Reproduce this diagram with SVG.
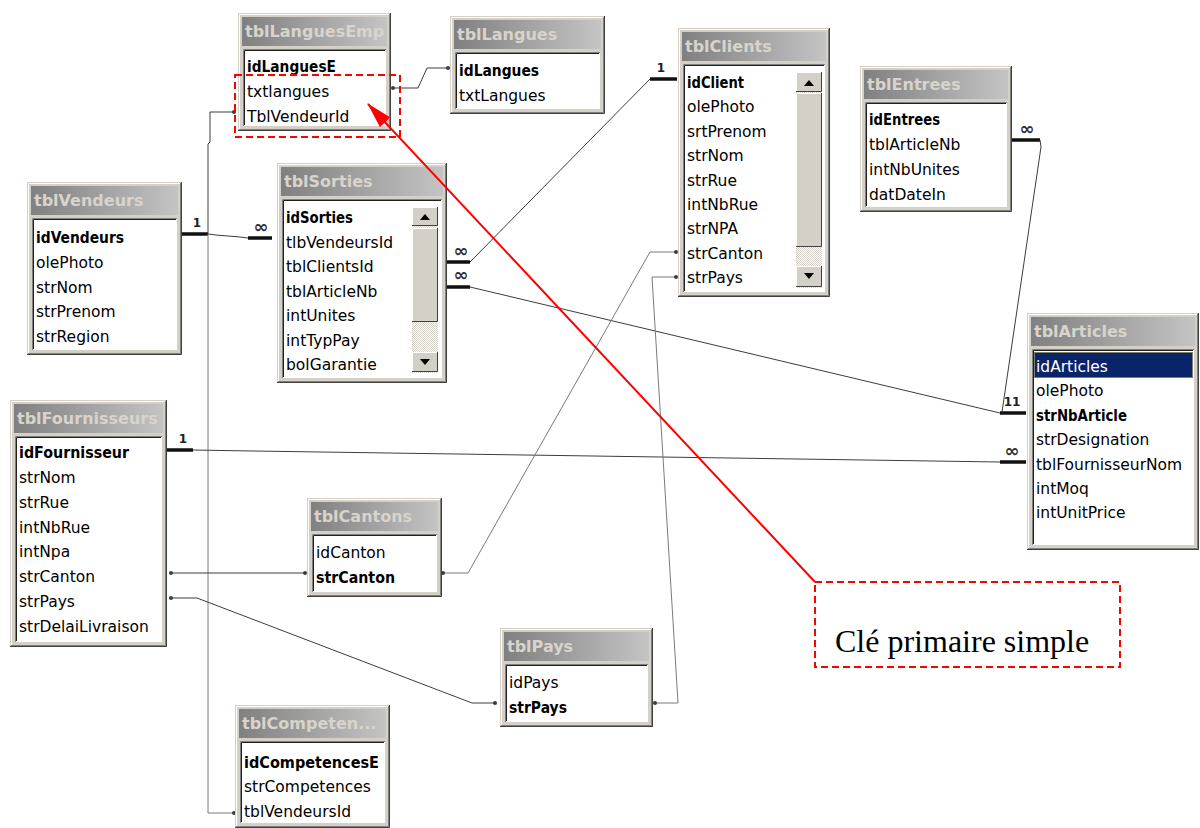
<svg xmlns="http://www.w3.org/2000/svg" width="1200" height="828" viewBox="0 0 1200 828">
  <defs>
    <linearGradient id="cap" x1="0" y1="0" x2="1" y2="0">
      <stop offset="0" stop-color="#808080"/>
      <stop offset="1" stop-color="#c4c4c4"/>
    </linearGradient>
    <pattern id="chk" width="2" height="2" patternUnits="userSpaceOnUse">
      <rect width="2" height="2" fill="#ffffff"/>
      <rect width="1" height="1" fill="#d4d0c8"/>
      <rect x="1" y="1" width="1" height="1" fill="#d4d0c8"/>
    </pattern>
    <clipPath id="clipLE"><rect x="242" y="17" width="145" height="29"/></clipPath>
    <clipPath id="clipFo"><rect x="14" y="404" width="149" height="29"/></clipPath>
    <marker id="redHead" markerUnits="userSpaceOnUse" viewBox="0 0 26 14" refX="25" refY="7" markerWidth="26" markerHeight="14" orient="auto">
      <path d="M0 0 L26 7 L0 14 Z" fill="#ff0000"/>
    </marker>
    <style>
      .frm { fill: #d4d0c8; }
      .lt { fill: none; stroke: #ffffff; stroke-width: 1; }
      .dk { fill: none; stroke: #404040; stroke-width: 1; }
      .md { fill: none; stroke: #808080; stroke-width: 1; }
      .cap { fill: url(#cap); }
      .ttl { font-family: "DejaVu Sans", sans-serif; font-weight: bold; font-size: 16px; fill: #d8d4cc; }
      .lst { fill: #ffffff; }
      .lsd { fill: none; stroke: #808080; stroke-width: 1; }
      .lsb { fill: none; stroke: #202020; stroke-width: 1; }
      .fld { font-family: "DejaVu Sans", sans-serif; font-size: 15.5px; fill: #000000; }
      .pk { font-weight: bold; }
      .sel { fill: #ffffff; }
      .btn { fill: #d4d0c8; stroke: none; }
      .arr { fill: #000000; }
      .rel { fill: none; stroke: #3c3c3c; stroke-width: 1; }
      .rel2 { fill: none; stroke: #7a7a7a; stroke-width: 1; }
      .bar { stroke: #101010; stroke-width: 3.5; }
      .dot { fill: #3c3c3c; }
      .one { font-family: "DejaVu Sans", sans-serif; font-weight: bold; font-size: 12px; fill: #202020; text-anchor: middle; }
      .many { font-family: "DejaVu Sans", sans-serif; font-weight: bold; font-size: 18px; fill: #303030; text-anchor: middle; }
      .red { fill: none; stroke: #ff0000; stroke-width: 2; }
      .redDash { fill: none; stroke: #ff0000; stroke-width: 2; stroke-dasharray: 7 4; }
      .note { font-family: "Liberation Serif", "Times New Roman", serif; font-size: 32px; fill: #000000; }
    </style>
  </defs>

  <rect width="1200" height="828" fill="#ffffff"/>

  <!-- relationship lines -->
  <g id="connectors">
    <!-- tblVendeurs.idVendeurs -> tblSorties.tlbVendeursId -->
    <line class="bar" x1="182" y1="234" x2="208" y2="234"/>
    <text class="one" x="197" y="227">1</text>
    <polyline class="rel" points="208,234 216,235 240,237 248,238"/>
    <line class="bar" x1="248" y1="238" x2="272" y2="238"/>
    <text class="many" x="261" y="233">∞</text>

    <!-- tblVendeurs -> tblLanguesEmp.TblVendeurId -->
    <polyline class="rel" points="234,112 210,112 210,142 208,144 208,234"/>
    <circle class="dot" cx="234" cy="112" r="2"/>
    <!-- tblVendeurs -> tblCompetences.tblVendeursId -->
    <polyline class="rel2" points="208,234 208,813 234,813"/>
    <circle class="dot" cx="234" cy="813" r="2"/>

    <!-- tblLanguesEmp.txtlangues -> tblLangues.idLangues -->
    <polyline class="rel" points="393,88 418,88 427,68 448,68"/>
    <circle class="dot" cx="393" cy="88" r="2"/>
    <circle class="dot" cx="448" cy="68" r="2"/>

    <!-- tblSorties.tblClientsId -> tblClients.idClient -->
    <line class="bar" x1="447" y1="262" x2="470" y2="262"/>
    <text class="many" x="461" y="257">∞</text>
    <line class="rel" x1="470" y1="262" x2="650" y2="79"/>
    <line class="bar" x1="650" y1="79" x2="677" y2="79"/>
    <text class="one" x="661" y="72">1</text>

    <!-- tblSorties.tblArticleNb -> tblArticles.strNbArticle -->
    <line class="bar" x1="447" y1="287" x2="470" y2="287"/>
    <text class="many" x="461" y="281">∞</text>
    <line class="rel" x1="470" y1="287" x2="1000" y2="413"/>
    <line class="bar" x1="1000" y1="413" x2="1026" y2="413"/>
    <text class="one" x="1012" y="406">11</text>

    <!-- tblEntrees.tblArticleNb -> tblArticles.strNbArticle -->
    <line class="bar" x1="1012" y1="140" x2="1040" y2="140"/>
    <text class="many" x="1027" y="135">∞</text>
    <polyline class="rel" points="1040,140 1041,147 1002,412"/>

    <!-- tblFournisseurs.idFournisseur -> tblArticles.tblFournisseurNom -->
    <line class="bar" x1="167" y1="450" x2="193" y2="450"/>
    <text class="one" x="183" y="443">1</text>
    <polyline class="rel" points="193,450 253,451 1000,462"/>
    <line class="bar" x1="1000" y1="462" x2="1026" y2="462"/>
    <text class="many" x="1012" y="457">∞</text>

    <!-- tblFournisseurs.strCanton -> tblCantons.strCanton -->
    <line class="rel" x1="171" y1="573" x2="305" y2="573"/>
    <circle class="dot" cx="171" cy="573" r="2"/>
    <circle class="dot" cx="305" cy="573" r="2"/>

    <!-- tblCantons.strCanton -> tblClients.strCanton -->
    <polyline class="rel2" points="443,573 468,573 650,252 676,252"/>
    <circle class="dot" cx="443" cy="573" r="2"/>
    <circle class="dot" cx="676" cy="252" r="2"/>

    <!-- tblFournisseurs.strPays -> tblPays.strPays -->
    <polyline class="rel" points="171,598 197,598 472,703 495,703"/>
    <circle class="dot" cx="171" cy="598" r="2"/>
    <circle class="dot" cx="495" cy="703" r="2"/>

    <!-- tblPays.strPays -> tblClients.strPays -->
    <polyline class="rel2" points="655,703 678,703 652,277 676,277"/>
    <circle class="dot" cx="655" cy="703" r="2"/>
    <circle class="dot" cx="676" cy="277" r="2"/>
  </g>

  <!-- tables -->
  <g id="tblLanguesEmp">
    <rect class="frm" x="238" y="13" width="153" height="118"/>
    <path class="lt" d="M239.5 129 V14.5 H389"/>
    <path class="dk" d="M238 130.5 H390.5 V13"/>
    <path class="md" d="M239 129.5 H389.5 V14"/>
    <rect class="cap" x="242" y="17" width="145" height="29"/>
    <text class="ttl" x="245" y="37" clip-path="url(#clipLE)">tblLanguesEmp</text>
    <rect class="lst" x="243" y="49" width="143" height="77"/>
    <path class="lsd" d="M243.5 126 V49.5 H386"/>
    <path class="lsb" d="M244.5 125 V50.5 H385"/>
    <text class="fld pk" x="247" y="72" textLength="89" lengthAdjust="spacingAndGlyphs">idLanguesE</text>
    <text class="fld" x="247" y="97">txtlangues</text>
    <text class="fld" x="247" y="122">TblVendeurId</text>
  </g>

  <g id="tblLangues">
    <rect class="frm" x="450" y="16" width="155" height="98"/>
    <path class="lt" d="M451.5 112 V17.5 H603"/>
    <path class="dk" d="M450 113.5 H604.5 V16"/>
    <path class="md" d="M451 112.5 H603.5 V17"/>
    <rect class="cap" x="454" y="20" width="147" height="29"/>
    <text class="ttl" x="457" y="40">tblLangues</text>
    <rect class="lst" x="455" y="52" width="145" height="57"/>
    <path class="lsd" d="M455.5 109 V52.5 H600"/>
    <path class="lsb" d="M456.5 108 V53.5 H599"/>
    <text class="fld pk" x="459" y="76" textLength="80" lengthAdjust="spacingAndGlyphs">idLangues</text>
    <text class="fld" x="459" y="100.5">txtLangues</text>
  </g>

  <g id="tblClients">
    <rect class="frm" x="678" y="28" width="152" height="269"/>
    <path class="lt" d="M679.5 295 V29.5 H828"/>
    <path class="dk" d="M678 296.5 H829.5 V28"/>
    <path class="md" d="M679 295.5 H828.5 V29"/>
    <rect class="cap" x="682" y="32" width="144" height="29"/>
    <text class="ttl" x="685" y="52">tblClients</text>
    <rect class="lst" x="683" y="64" width="142" height="228"/>
    <path class="lsd" d="M683.5 292 V64.5 H825"/>
    <path class="lsb" d="M684.5 291 V65.5 H824"/>
    <text class="fld pk" x="687" y="88" textLength="57" lengthAdjust="spacingAndGlyphs">idClient</text>
    <text class="fld" x="687" y="112.4">olePhoto</text>
    <text class="fld" x="687" y="136.8">srtPrenom</text>
    <text class="fld" x="687" y="161.2">strNom</text>
    <text class="fld" x="687" y="185.6">strRue</text>
    <text class="fld" x="687" y="210">intNbRue</text>
    <text class="fld" x="687" y="234.4">strNPA</text>
    <text class="fld" x="687" y="258.8">strCanton</text>
    <text class="fld" x="687" y="283.2">strPays</text>
    <!-- vertical scroll bar -->
    <rect x="796" y="72" width="26" height="216" fill="url(#chk)"/>
    <rect class="btn" x="796" y="72" width="26" height="20"/>
    <path class="lt" d="M796.5 91 V72.5 H821"/>
    <path class="dk" d="M796 91.5 H821.5 V72"/>
    <path class="arr" d="M804 86 L809 80 L814 86 Z"/>
    <rect class="btn" x="796" y="93" width="26" height="154"/>
    <path class="lt" d="M796.5 246 V93.5 H821"/>
    <path class="dk" d="M796 246.5 H821.5 V93"/>
    <rect class="btn" x="796" y="266" width="26" height="21"/>
    <path class="lt" d="M796.5 286 V266.5 H821"/>
    <path class="dk" d="M796 286.5 H821.5 V266"/>
    <path class="arr" d="M804 273 L814 273 L809 279 Z"/>
  </g>

  <g id="tblVendeurs">
    <rect class="frm" x="27" y="182" width="155" height="173"/>
    <path class="lt" d="M28.5 353 V183.5 H180"/>
    <path class="dk" d="M27 354.5 H181.5 V182"/>
    <path class="md" d="M28 353.5 H180.5 V183"/>
    <rect class="cap" x="31" y="186" width="147" height="29"/>
    <text class="ttl" x="34" y="206">tblVendeurs</text>
    <rect class="lst" x="32" y="218" width="145" height="132"/>
    <path class="lsd" d="M32.5 350 V218.5 H177"/>
    <path class="lsb" d="M33.5 349 V219.5 H176"/>
    <text class="fld pk" x="36" y="243" textLength="88" lengthAdjust="spacingAndGlyphs">idVendeurs</text>
    <text class="fld" x="36" y="267.75">olePhoto</text>
    <text class="fld" x="36" y="292.5">strNom</text>
    <text class="fld" x="36" y="317.25">strPrenom</text>
    <text class="fld" x="36" y="342">strRegion</text>
  </g>

  <g id="tblSorties">
    <rect class="frm" x="277" y="163" width="170" height="220"/>
    <path class="lt" d="M278.5 381 V164.5 H445"/>
    <path class="dk" d="M277 382.5 H446.5 V163"/>
    <path class="md" d="M278 381.5 H445.5 V164"/>
    <rect class="cap" x="281" y="167" width="162" height="29"/>
    <text class="ttl" x="284" y="187">tblSorties</text>
    <rect class="lst" x="282" y="199" width="160" height="179"/>
    <path class="lsd" d="M282.5 378 V199.5 H442"/>
    <path class="lsb" d="M283.5 377 V200.5 H441"/>
    <text class="fld pk" x="286" y="223" textLength="67" lengthAdjust="spacingAndGlyphs">idSorties</text>
    <text class="fld" x="286" y="247.5">tlbVendeursId</text>
    <text class="fld" x="286" y="272">tblClientsId</text>
    <text class="fld" x="286" y="296.5">tblArticleNb</text>
    <text class="fld" x="286" y="321">intUnites</text>
    <text class="fld" x="286" y="345.5">intTypPay</text>
    <text class="fld" x="286" y="370">bolGarantie</text>
    <!-- vertical scroll bar -->
    <rect x="412" y="207" width="26" height="166" fill="url(#chk)"/>
    <rect class="btn" x="412" y="207" width="26" height="19"/>
    <path class="lt" d="M412.5 225 V207.5 H437"/>
    <path class="dk" d="M412 225.5 H437.5 V207"/>
    <path class="arr" d="M420 220 L425 214 L430 220 Z"/>
    <rect class="btn" x="412" y="228" width="26" height="94"/>
    <path class="lt" d="M412.5 321 V228.5 H437"/>
    <path class="dk" d="M412 321.5 H437.5 V228"/>
    <rect class="btn" x="412" y="352" width="26" height="20"/>
    <path class="lt" d="M412.5 371 V352.5 H437"/>
    <path class="dk" d="M412 371.5 H437.5 V352"/>
    <path class="arr" d="M420 359 L430 359 L425 365 Z"/>
  </g>

  <g id="tblEntrees">
    <rect class="frm" x="860" y="66" width="152" height="146"/>
    <path class="lt" d="M861.5 210 V67.5 H1010"/>
    <path class="dk" d="M860 211.5 H1011.5 V66"/>
    <path class="md" d="M861 210.5 H1010.5 V67"/>
    <rect class="cap" x="864" y="70" width="144" height="29"/>
    <text class="ttl" x="867" y="90">tblEntrees</text>
    <rect class="lst" x="865" y="102" width="142" height="105"/>
    <path class="lsd" d="M865.5 207 V102.5 H1007"/>
    <path class="lsb" d="M866.5 206 V103.5 H1006"/>
    <text class="fld pk" x="869" y="125" textLength="71" lengthAdjust="spacingAndGlyphs">idEntrees</text>
    <text class="fld" x="869" y="150">tblArticleNb</text>
    <text class="fld" x="869" y="175">intNbUnites</text>
    <text class="fld" x="869" y="200">datDateIn</text>
  </g>

  <g id="tblArticles">
    <rect class="frm" x="1027" y="313" width="172" height="237"/>
    <path class="lt" d="M1028.5 548 V314.5 H1197"/>
    <path class="dk" d="M1027 549.5 H1198.5 V313"/>
    <path class="md" d="M1028 548.5 H1197.5 V314"/>
    <rect class="cap" x="1031" y="317" width="164" height="29"/>
    <text class="ttl" x="1034" y="337">tblArticles</text>
    <rect class="lst" x="1032" y="349" width="162" height="196"/>
    <path class="lsd" d="M1032.5 545 V349.5 H1194"/>
    <path class="lsb" d="M1033.5 544 V350.5 H1193"/>
    <rect x="1034" y="352" width="159" height="26" fill="#0a246a"/>
    <rect x="1034.5" y="352.5" width="158" height="25" fill="none" stroke="#e8d870" stroke-width="1" stroke-dasharray="1 1"/>
    <text class="fld sel" x="1036" y="372">idArticles</text>
    <text class="fld" x="1036" y="396.4">olePhoto</text>
    <text class="fld pk" x="1036" y="420.8" textLength="91" lengthAdjust="spacingAndGlyphs">strNbArticle</text>
    <text class="fld" x="1036" y="445.2">strDesignation</text>
    <text class="fld" x="1036" y="469.6">tblFournisseurNom</text>
    <text class="fld" x="1036" y="494">intMoq</text>
    <text class="fld" x="1036" y="518.4">intUnitPrice</text>
  </g>

  <g id="tblFournisseurs">
    <rect class="frm" x="10" y="400" width="157" height="247"/>
    <path class="lt" d="M11.5 645 V401.5 H165"/>
    <path class="dk" d="M10 646.5 H166.5 V400"/>
    <path class="md" d="M11 645.5 H165.5 V401"/>
    <rect class="cap" x="14" y="404" width="149" height="29"/>
    <text class="ttl" x="17" y="424" clip-path="url(#clipFo)">tblFournisseurs</text>
    <rect class="lst" x="15" y="436" width="147" height="206"/>
    <path class="lsd" d="M15.5 642 V436.5 H162"/>
    <path class="lsb" d="M16.5 641 V437.5 H161"/>
    <text class="fld pk" x="19" y="458" textLength="110" lengthAdjust="spacingAndGlyphs">idFournisseur</text>
    <text class="fld" x="19" y="482.9">strNom</text>
    <text class="fld" x="19" y="507.7">strRue</text>
    <text class="fld" x="19" y="532.6">intNbRue</text>
    <text class="fld" x="19" y="557.4">intNpa</text>
    <text class="fld" x="19" y="582.3">strCanton</text>
    <text class="fld" x="19" y="607.1">strPays</text>
    <text class="fld" x="19" y="632">strDelaiLivraison</text>
  </g>

  <g id="tblCantons">
    <rect class="frm" x="307" y="498" width="135" height="99"/>
    <path class="lt" d="M308.5 595 V499.5 H440"/>
    <path class="dk" d="M307 596.5 H441.5 V498"/>
    <path class="md" d="M308 595.5 H440.5 V499"/>
    <rect class="cap" x="311" y="502" width="127" height="29"/>
    <text class="ttl" x="314" y="522">tblCantons</text>
    <rect class="lst" x="312" y="534" width="125" height="58"/>
    <path class="lsd" d="M312.5 592 V534.5 H437"/>
    <path class="lsb" d="M313.5 591 V535.5 H436"/>
    <text class="fld" x="316" y="558">idCanton</text>
    <text class="fld pk" x="316" y="583" textLength="79" lengthAdjust="spacingAndGlyphs">strCanton</text>
  </g>

  <g id="tblPays">
    <rect class="frm" x="500" y="628" width="153" height="99"/>
    <path class="lt" d="M501.5 725 V629.5 H651"/>
    <path class="dk" d="M500 726.5 H652.5 V628"/>
    <path class="md" d="M501 725.5 H651.5 V629"/>
    <rect class="cap" x="504" y="632" width="145" height="29"/>
    <text class="ttl" x="507" y="652">tblPays</text>
    <rect class="lst" x="505" y="664" width="143" height="58"/>
    <path class="lsd" d="M505.5 722 V664.5 H648"/>
    <path class="lsb" d="M506.5 721 V665.5 H647"/>
    <text class="fld" x="509" y="688">idPays</text>
    <text class="fld pk" x="509" y="713" textLength="58" lengthAdjust="spacingAndGlyphs">strPays</text>
  </g>

  <g id="tblCompetences">
    <rect class="frm" x="235" y="705" width="155" height="123"/>
    <path class="lt" d="M236.5 826 V706.5 H388"/>
    <path class="dk" d="M235 827.5 H389.5 V705"/>
    <path class="md" d="M236 826.5 H388.5 V706"/>
    <rect class="cap" x="239" y="709" width="147" height="29"/>
    <text class="ttl" x="242" y="729">tblCompeten...</text>
    <rect class="lst" x="240" y="741" width="145" height="82"/>
    <path class="lsd" d="M240.5 823 V741.5 H385"/>
    <path class="lsb" d="M241.5 822 V742.5 H384"/>
    <text class="fld pk" x="244" y="768" textLength="135" lengthAdjust="spacingAndGlyphs">idCompetencesE</text>
    <text class="fld" x="244" y="792">strCompetences</text>
    <text class="fld" x="244" y="817">tblVendeursId</text>
  </g>

  <!-- red callout -->
  <g id="callout">
    <rect class="redDash" x="235" y="75" width="165" height="62"/>
    <line class="red" x1="815" y1="582" x2="368" y2="104" marker-end="url(#redHead)"/>
    <rect class="redDash" x="815" y="582" width="305" height="85"/>
    <text class="note" x="835" y="652">Clé primaire simple</text>
  </g>
</svg>
